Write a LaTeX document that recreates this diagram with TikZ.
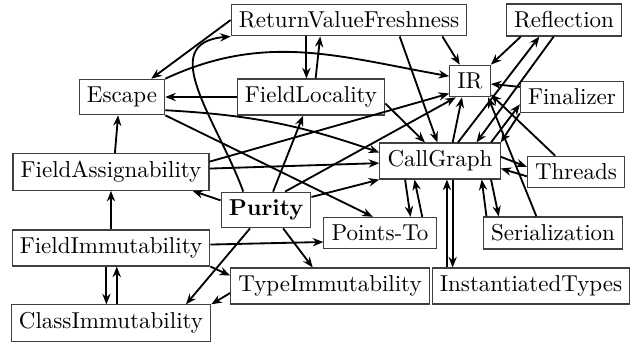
\documentclass[tikz,border=0pt]{standalone}
\usepackage{tikz}
\usetikzlibrary{arrows.meta, calc}
\tikzstyle{block} = [rectangle, draw=black!75, fill=white, line width=0.5pt, inner sep=3.33pt, align=center]
\tikzstyle{arrow} = [thick,->,>={Stealth[length=4.6pt, width=3.6pt]}]

\begin{document}
\begin{tikzpicture}[x=0.435pt, y=0.435pt]
\useasboundingbox (0,0) rectangle (636,-343);

\node[block] (freshness) at (349,-20) {ReturnValueFreshness};
\node[block] (reflection) at (564,-20) {Reflection};
\node[block] (escape) at (122,-97) {Escape};
\node[block] (locality) at (311,-97) {FieldLocality};
\node[block] (ir) at (470,-81) {IR};
\node[block] (finalizer) at (572,-97) {Finalizer};
\node[block] (assign) at (111,-172) {FieldAssignability};
\node[block] (callgraph) at (440,-161) {CallGraph};
\node[block] (threads) at (576,-172) {Threads};
\node[block] (purity) at (266,-210) {\textbf{Purity}};
\node[block] (fieldimm) at (111,-248) {FieldImmutability};
\node[block] (pointsto) at (380,-233) {Points-To};
\node[block] (serial) at (553,-233) {Serialization};
\node[block] (typeimm) at (330,-286) {TypeImmutability};
\node[block] (insttypes) at (531,-286) {InstantiatedTypes};
\node[block] (classimm) at (111,-323) {ClassImmutability};

    % upper part
    \draw[arrow] (freshness.west) -- (escape.32);
    \draw[arrow] (purity.141) to[out=110, in=185, looseness=1.25] (freshness.south west);
    \draw[arrow] ([xshift=-2pt]locality.north |- freshness.south) -- ([xshift=-2pt]locality.north);
    \draw[arrow] ([xshift=2pt]locality.north) -- ([xshift=4pt]locality.north |- freshness.south);
    \draw[arrow] (escape.north east) to[out=25, in=170] (ir.167);
    \draw[arrow] (locality.west) -- (escape.east);
    \draw[arrow] (freshness.350) -- (ir.122);
    \draw[arrow] (freshness.342) -- (callgraph.98);
    \draw[arrow] (reflection.201) -- (ir.north east);
    \draw[arrow] (callgraph.46) -- (reflection.214);
    \draw[arrow] (reflection.238) -- (callgraph.27);
    \draw[arrow] (finalizer.169) -- (ir.352);
    \draw[arrow] (callgraph.20) -- (finalizer.188);
    \draw[arrow] (finalizer.south west) -- (callgraph.north east);
    \draw[arrow] (threads.142) -- (ir.327);
    \draw[arrow] (serial.135) -- (ir.318);
    \draw[arrow] ([xshift=5.5pt]callgraph.north) -- ([xshift=-3.5pt]ir.south);
    % around CallGraph
    \draw[arrow] (callgraph.4) -- (threads.174);
    \draw[arrow] (threads.185) -- (callgraph.353);
    \draw[arrow] (serial.166) -- (callgraph.336);
    \draw[arrow] (callgraph.340) -- (serial.163);
    \draw[arrow] ([xshift=3pt]callgraph.south |- insttypes.north) -- ([xshift=3pt]callgraph.south);
    \draw[arrow] ([xshift=5.5pt]callgraph.south) -- ([xshift=5.5pt]callgraph.south |- insttypes.north);
    \draw[arrow] (callgraph.208) -- (pointsto.28);
    \draw[arrow] (pointsto.21) -- (callgraph.216);
    \draw[arrow] (locality.355) -- (callgraph.129);
    % left part
    \draw[arrow] (escape.343) to[bend left=8] (callgraph.172);
    \draw[arrow] (escape.south east) -- (pointsto.114);
    \draw[arrow] ([xshift=1.7pt]assign.north) -- ([xshift=-1.7pt]escape.south);
    \draw[arrow] (assign.6) -- (ir.211);
    \draw[arrow] (assign.2) -- (callgraph.182);
    \draw[arrow] (purity.44) -- (ir.229);
    \draw[arrow] (purity.16) -- (callgraph.south west);
    \draw[arrow] (purity.168) -- (assign.347);
    \draw[arrow] (purity.69) -- (locality.247);
    \draw[arrow] (purity.313) -- (typeimm.133);
    \draw[arrow] (purity.229) -- (classimm.14);
    \draw[arrow] (typeimm.184) -- (classimm.north east);
    \draw[arrow] (fieldimm) -- (assign);
    \draw[arrow] (fieldimm.2) -- (pointsto.189);
    \draw[arrow] (fieldimm.south east) -- (typeimm.174);
    \draw[arrow] ([xshift=-2pt]fieldimm.south) -- ([xshift=-2pt]classimm.north);
    \draw[arrow] ([xshift=2.5pt]classimm.north) -- ([xshift=2.5pt]fieldimm.south);
\end{tikzpicture}
\end{document}
